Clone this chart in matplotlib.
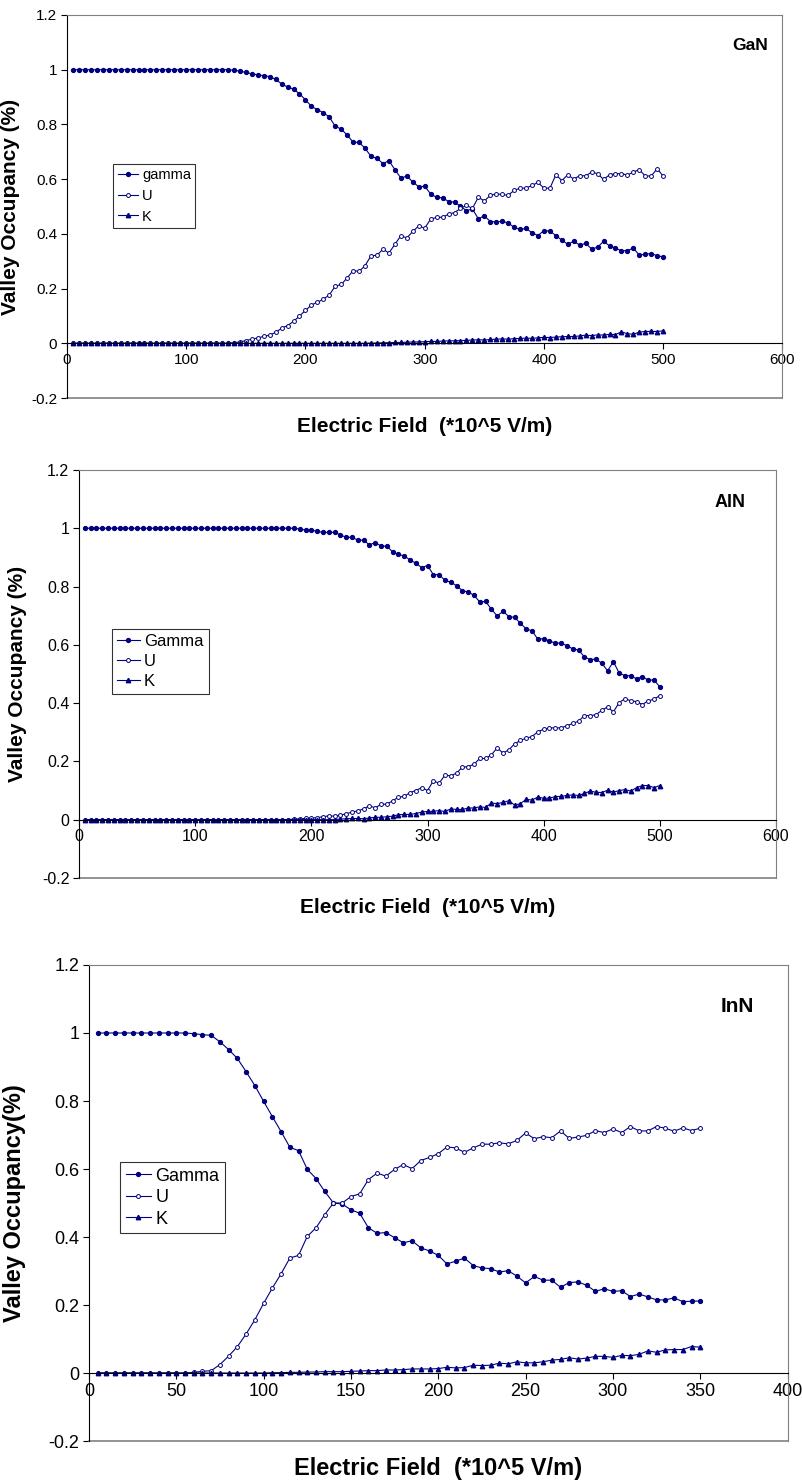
import matplotlib
matplotlib.use('Agg')
import matplotlib.pyplot as plt
from matplotlib.ticker import FuncFormatter

plt.rcParams['font.family'] = ['Liberation Sans', 'DejaVu Sans']

NAVY = '#000080'

# ---- GaN ----
gan_field = list(range(5, 505, 5))
gan_gamma = [1.0] * 27 + [
    0.998, 0.995, 0.99, 0.985, 0.981, 0.978, 0.975, 0.965, 0.948, 0.937,
    0.929, 0.912, 0.89, 0.866, 0.854, 0.843, 0.827, 0.793, 0.783, 0.761,
    0.735, 0.734, 0.713, 0.683, 0.676, 0.657, 0.667, 0.635, 0.604, 0.611,
    0.590, 0.572, 0.574, 0.546, 0.533, 0.532, 0.518, 0.516, 0.501, 0.485,
    0.491, 0.455, 0.466, 0.445, 0.444, 0.446, 0.440, 0.424, 0.416, 0.420,
    0.404, 0.394, 0.412, 0.410, 0.394, 0.377, 0.362, 0.373, 0.359, 0.365,
    0.345, 0.351, 0.373, 0.356, 0.348, 0.338, 0.339, 0.348, 0.322, 0.326,
    0.328, 0.320, 0.316]
gan_u = [0.0] * 27 + [
    0.002, 0.005, 0.01, 0.015, 0.02, 0.025, 0.03, 0.04, 0.055, 0.065,
    0.08, 0.1, 0.12, 0.14, 0.15,
    0.161, 0.177, 0.209, 0.215, 0.239, 0.266, 0.263, 0.284, 0.320, 0.322,
    0.344, 0.330, 0.362, 0.393, 0.385, 0.409, 0.429, 0.421, 0.454, 0.460,
    0.461, 0.472, 0.478, 0.493, 0.504, 0.493, 0.534, 0.520, 0.541, 0.546,
    0.544, 0.541, 0.559, 0.567, 0.567, 0.577, 0.588, 0.567, 0.567, 0.616,
    0.595, 0.616, 0.600, 0.613, 0.612, 0.626, 0.620, 0.599, 0.616, 0.620,
    0.620, 0.615, 0.626, 0.635, 0.611, 0.612, 0.638, 0.611]
gan_k = [0.0] * 49 + [
    0.0, 0.001, 0.001, 0.002, 0.002, 0.003, 0.003, 0.004, 0.005, 0.005,
    0.006, 0.007, 0.007, 0.008, 0.009, 0.009, 0.010, 0.011, 0.012, 0.013,
    0.012, 0.014, 0.015, 0.016, 0.015, 0.017, 0.018, 0.019, 0.018, 0.020,
    0.022, 0.021, 0.023, 0.024, 0.025, 0.025, 0.027, 0.030, 0.028, 0.031,
    0.030, 0.033, 0.032, 0.042, 0.035, 0.033, 0.041, 0.043, 0.044, 0.043,
    0.046]

# ---- AlN ----
aln_field = list(range(5, 505, 5))
aln_gamma = [1.0] * 37 + [
    0.997, 0.994, 0.994, 0.989, 0.986, 0.986, 0.986, 0.977, 0.969, 0.969,
    0.959, 0.959, 0.943, 0.951, 0.939, 0.938, 0.919, 0.910, 0.905, 0.891,
    0.880, 0.865, 0.872, 0.841, 0.841, 0.821, 0.815, 0.803, 0.786, 0.781,
    0.770, 0.747, 0.749, 0.722, 0.699, 0.715, 0.697, 0.694, 0.674, 0.654,
    0.648, 0.619, 0.621, 0.613, 0.606, 0.606, 0.597, 0.586, 0.582, 0.559,
    0.549, 0.551, 0.537, 0.511, 0.542, 0.503, 0.494, 0.494, 0.483, 0.491,
    0.478, 0.480, 0.455]
aln_u = [0.0] * 36 + [
    0.002, 0.003, 0.004, 0.005, 0.007, 0.010, 0.013, 0.012, 0.016, 0.020,
    0.026, 0.030, 0.037, 0.048, 0.040, 0.053, 0.053, 0.065, 0.077, 0.080,
    0.093, 0.100, 0.110, 0.100, 0.133, 0.125, 0.153, 0.150, 0.160, 0.180,
    0.182, 0.190, 0.210, 0.210, 0.222, 0.247, 0.228, 0.240, 0.260, 0.272,
    0.280, 0.285, 0.302, 0.310, 0.315, 0.315, 0.315, 0.322, 0.330, 0.338,
    0.357, 0.357, 0.360, 0.375, 0.387, 0.370, 0.402, 0.415, 0.408, 0.405,
    0.395, 0.408, 0.413, 0.426]
aln_k = [0.0] * 44 + [
    0.002, 0.003, 0.004, 0.004, 0.003, 0.006, 0.008, 0.008, 0.010, 0.012,
    0.017, 0.018, 0.018, 0.021, 0.026, 0.028, 0.029, 0.031, 0.028, 0.037,
    0.035, 0.035, 0.040, 0.040, 0.044, 0.042, 0.057, 0.055, 0.059, 0.065,
    0.050, 0.055, 0.070, 0.067, 0.078, 0.073, 0.074, 0.079, 0.080, 0.083,
    0.085, 0.083, 0.090, 0.098, 0.094, 0.093, 0.101, 0.094, 0.100, 0.103,
    0.098, 0.110, 0.117, 0.117, 0.110, 0.117]

# ---- InN ----
inn_field = list(range(5, 355, 5))
inn_gamma = [1.0] * 11 + [
    0.998, 0.995, 0.993, 0.974, 0.951, 0.925, 0.886, 0.845, 0.799, 0.754,
    0.710, 0.664, 0.654, 0.599, 0.572, 0.534, 0.500, 0.497, 0.480, 0.470,
    0.427, 0.411, 0.413, 0.398, 0.383, 0.389, 0.368, 0.359, 0.346, 0.321,
    0.329, 0.338, 0.316, 0.309, 0.307, 0.297, 0.301, 0.285, 0.265, 0.284,
    0.273, 0.273, 0.252, 0.266, 0.268, 0.258, 0.240, 0.248, 0.240, 0.242,
    0.225, 0.232, 0.224, 0.215, 0.215, 0.221, 0.210, 0.211, 0.212]
inn_u = [0.0] * 11 + [
    0.002, 0.005, 0.007, 0.025, 0.050, 0.078, 0.115, 0.157, 0.205, 0.250,
    0.292, 0.338, 0.346, 0.402, 0.427, 0.466, 0.500, 0.500, 0.519, 0.527,
    0.569, 0.588, 0.579, 0.599, 0.613, 0.601, 0.625, 0.634, 0.645, 0.665,
    0.662, 0.649, 0.662, 0.673, 0.673, 0.677, 0.674, 0.684, 0.706, 0.689,
    0.695, 0.692, 0.712, 0.690, 0.694, 0.699, 0.713, 0.707, 0.718, 0.707,
    0.725, 0.712, 0.712, 0.725, 0.720, 0.711, 0.721, 0.713, 0.720]
inn_k = [0.0] * 20 + [
    0.001, 0.001, 0.002, 0.002, 0.003, 0.003, 0.004, 0.004, 0.004, 0.005,
    0.006, 0.007, 0.007, 0.009, 0.009, 0.010, 0.012, 0.012, 0.012, 0.013,
    0.017, 0.015, 0.016, 0.023, 0.022, 0.023, 0.029, 0.027, 0.033, 0.030,
    0.030, 0.033, 0.038, 0.040, 0.045, 0.041, 0.044, 0.049, 0.049, 0.046,
    0.052, 0.051, 0.055, 0.065, 0.061, 0.068, 0.069, 0.069, 0.078, 0.076]


def draw_panel(ax, x, gamma, u, k, names, material, xmax, xstep, ylabel,
               fs, legend_xy, lspace, title_xy, xlabel_y, ylabel_x):
    ax.plot(x, gamma, color=NAVY, lw=0.8, marker='o', ms=2.8, mfc=NAVY, mec=NAVY, label=names[0])
    ax.plot(x, u, color=NAVY, lw=0.8, marker='o', ms=2.8, mfc='white', mec=NAVY, mew=0.7, label=names[1])
    ax.plot(x, k, color=NAVY, lw=0.8, marker='^', ms=3.2, mfc=NAVY, mec=NAVY, label=names[2])

    ax.set_xlim(0, xmax)
    ax.set_ylim(-0.2, 1.2)
    ax.set_xticks(range(0, xmax + 1, xstep))
    ax.set_yticks([-0.2, 0, 0.2, 0.4, 0.6, 0.8, 1.0, 1.2])
    ax.yaxis.set_major_formatter(FuncFormatter(lambda v, p: f'{v:g}'))

    # excel style: x axis crosses at zero, grey frame round the plot area
    ax.spines['bottom'].set_position(('data', 0))
    ax.spines['bottom'].set_color('black')
    ax.spines['left'].set_color('black')
    for s in ['top', 'right']:
        ax.spines[s].set_color('#808080')
    ax.axhline(-0.2, color='#808080', lw=1.2, clip_on=False)
    ax.tick_params(direction='out', length=4, width=0.8, labelsize=fs[0], pad=3)

    ax.set_xlabel('Electric Field  (*10^5 V/m)', fontsize=fs[1], fontweight='bold')
    ax.xaxis.set_label_coords(0.5, xlabel_y)
    ax.set_ylabel(ylabel, fontsize=fs[1], fontweight='bold')
    ax.yaxis.set_label_coords(ylabel_x, 0.5)

    ax.text(title_xy[0], title_xy[1], material, fontsize=fs[3], fontweight='bold',
            ha='center', va='center')

    leg = ax.legend(loc='upper left', bbox_to_anchor=legend_xy, bbox_transform=ax.transData,
                    fontsize=fs[2], frameon=True, fancybox=False, handlelength=1.4,
                    handletextpad=0.25, borderpad=0.3, labelspacing=lspace, borderaxespad=0)
    leg.get_frame().set_edgecolor('black')
    leg.get_frame().set_linewidth(0.8)


fig = plt.figure(figsize=(8.03, 14.83), dpi=100)
ax1 = fig.add_axes([0.0834, 0.7316, 0.891, 0.2583])
ax2 = fig.add_axes([0.0984, 0.4080, 0.868, 0.2751])
ax3 = fig.add_axes([0.1108, 0.0283, 0.870, 0.3210])

draw_panel(ax1, gan_field, gan_gamma, gan_u, gan_k, ['gamma', 'U', 'K'], 'GaN', 600, 100,
           'Valley Occupancy (%)', (11, 15, 10.5, 12.5), (39, 0.655), 0.45, (573, 1.09), -0.05, -0.066)
draw_panel(ax2, aln_field, aln_gamma, aln_u, aln_k, ['Gamma', 'U', 'K'], 'AlN', 600, 100,
           'Valley Occupancy (%)', (11.5, 15, 12, 13), (28, 0.655), 0.3, (560, 1.09), -0.05, -0.075)
draw_panel(ax3, inn_field, inn_gamma, inn_u, inn_k, ['Gamma', 'U', 'K'], 'InN', 400, 50,
           'Valley Occupancy(%)', (13, 17, 13, 15), (18, 0.62), 0.25, (371, 1.077), -0.033, -0.09)

fig.savefig('out.png', dpi=100)
